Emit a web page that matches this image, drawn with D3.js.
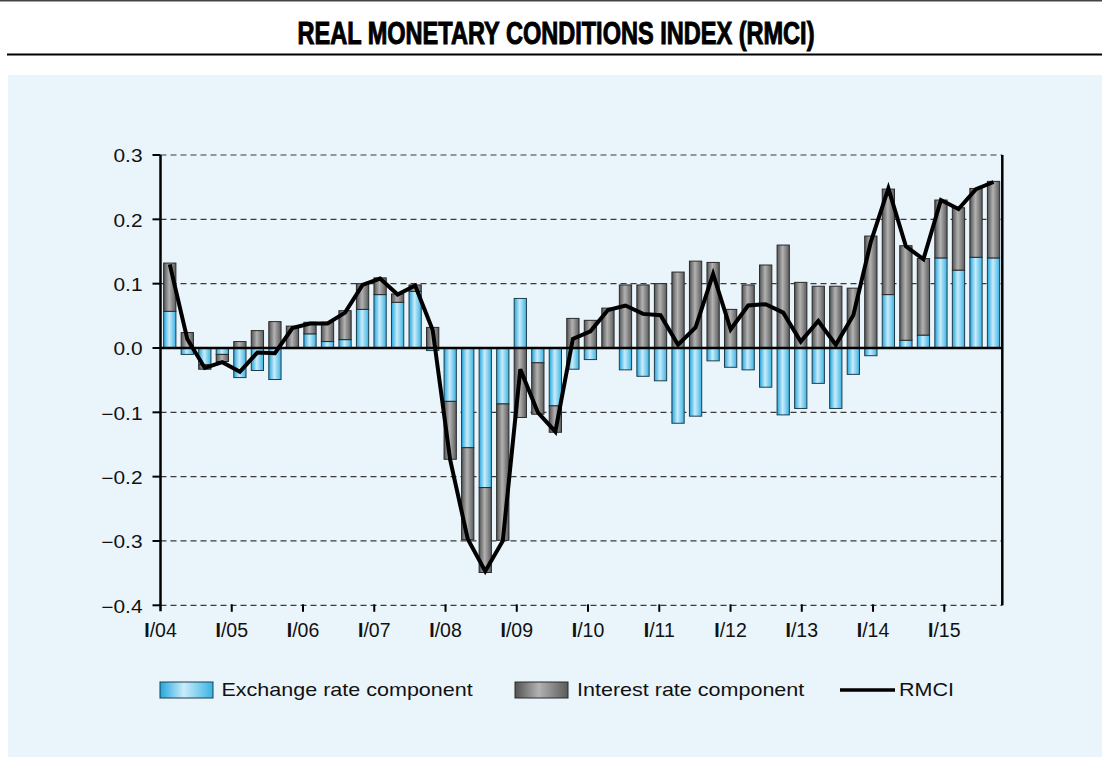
<!DOCTYPE html>
<html>
<head>
<meta charset="utf-8">
<script src="https://cdn.jsdelivr.net/npm/d3@7"></script>
<style>
  body { margin: 0; background: #fff; }
  svg { display: block; font-family: "Liberation Sans", Arial, sans-serif; }
</style>
</head>
<body>
<script>
  // quarterly data, I/04 .. IV/15
  const years = ["04", "05", "06", "07", "08", "09", "10", "11", "12", "13", "14", "15"];
  const quarterNames = ["I", "II", "III", "IV"];
  const quarters = years.flatMap((y) => quarterNames.map((q) => q + "/" + y));
  const tickLabels = years.map((y) => "I/" + y);
  const yTicks = [-0.4, -0.3, -0.2, -0.1, 0, 0.1, 0.2, 0.3];

  const exchange = [
     0.057, -0.010, -0.026, -0.010, -0.046, -0.035, -0.049,  0.000,
     0.022,  0.010,  0.013,  0.060,  0.083,  0.071,  0.088, -0.004,
    -0.083, -0.155, -0.217, -0.087,  0.077, -0.023, -0.090, -0.033,
    -0.018,  0.000, -0.034, -0.044, -0.051, -0.117, -0.106, -0.020,
    -0.030, -0.034, -0.061, -0.104, -0.094, -0.055, -0.094, -0.041,
    -0.012,  0.083,  0.012,  0.020,  0.140,  0.121,  0.141,  0.140
  ];
  const interest = [
     0.075,  0.024, -0.007, -0.011,  0.010,  0.027,  0.041,  0.034,
     0.018,  0.030,  0.045,  0.040,  0.026,  0.013,  0.010,  0.032,
    -0.090, -0.143, -0.132, -0.212, -0.108, -0.080, -0.041,  0.046,
     0.043,  0.062,  0.098,  0.098,  0.100,  0.118,  0.135,  0.133,
     0.060,  0.098,  0.129,  0.160,  0.102,  0.096,  0.096,  0.093,
     0.174,  0.164,  0.147,  0.119,  0.090,  0.097,  0.107,  0.119
  ];
  const rmci = [
     0.130,  0.014, -0.031, -0.022, -0.037, -0.007, -0.008,  0.031,
     0.038,  0.038,  0.055,  0.098,  0.108,  0.083,  0.097,  0.028,
    -0.174, -0.297, -0.347, -0.300, -0.033, -0.100, -0.130,  0.014,
     0.026,  0.059,  0.066,  0.053,  0.051,  0.005,  0.032,  0.115,
     0.029,  0.066,  0.068,  0.055,  0.010,  0.042,  0.005,  0.051,
     0.165,  0.248,  0.158,  0.138,  0.230,  0.216,  0.247,  0.258
  ];

  const W = 1102, H = 759;
  const plotLeft = 160.5, plotRight = 1002.3, plotTop = 155, plotBottom = 605.3;

  const svg = d3.select("body").append("svg")
    .attr("width", W).attr("height", H);

  // gradients
  const defs = svg.append("defs");
  const grad = (id, stops) => {
    const g = defs.append("linearGradient").attr("id", id)
      .attr("x1", "0%").attr("x2", "100%").attr("y1", "0%").attr("y2", "0%");
    stops.forEach(([o, c]) => g.append("stop").attr("offset", o).attr("stop-color", c));
  };
  grad("gBlue", [["0%", "#22a5de"], ["45%", "#c9ecfa"], ["100%", "#38b3e5"]]);
  grad("gGray", [["0%", "#525252"], ["45%", "#b2b2b2"], ["100%", "#5a5a5a"]]);

  // frame
  svg.append("rect").attr("x", 0).attr("y", 0).attr("width", W).attr("height", 1.5).attr("fill", "#444");
  svg.append("text")
    .attr("x", 556).attr("y", 43.5)
    .attr("text-anchor", "middle")
    .attr("font-family", "'Liberation Sans Narrow', 'Liberation Sans', sans-serif")
    .attr("font-weight", "bold")
    .attr("font-size", 31)
    .attr("textLength", 517)
    .attr("lengthAdjust", "spacingAndGlyphs")
    .attr("stroke", "#000").attr("stroke-width", 1)
    .text("REAL MONETARY CONDITIONS INDEX (RMCI)");
  svg.append("rect").attr("x", 7).attr("y", 53.5).attr("width", W - 7).attr("height", 2).attr("fill", "#000");
  svg.append("rect").attr("x", 8).attr("y", 75).attr("width", W - 8).attr("height", 682).attr("fill", "#eaf4fb");

  // scales
  const x = d3.scaleBand().domain(quarters).range([161, plotRight]).paddingInner(0.3).paddingOuter(0.15);
  const y = d3.scaleLinear().domain([-0.4, 0.3]).range([plotBottom, plotTop]);
  const xYear = d3.scaleLinear().domain([0, 11]).range([plotLeft, 944.3]);

  // gridlines
  svg.append("g").selectAll("line")
    .data(yTicks.filter((d) => d !== 0))
    .join("line")
    .attr("x1", plotLeft).attr("x2", plotRight)
    .attr("y1", (d) => y(d)).attr("y2", (d) => y(d))
    .attr("stroke", "#3a3a3a").attr("stroke-width", 1.2)
    .attr("stroke-dasharray", "6,4");

  // stacked bars
  const table = quarters.map((q, i) => ({ q, exchange: exchange[i], interest: interest[i] }));
  const series = d3.stack().keys(["exchange", "interest"]).offset(d3.stackOffsetDiverging)(table);
  const fills = { exchange: "url(#gBlue)", interest: "url(#gGray)" };
  const strokes = { exchange: "#1d3f4d", interest: "#2a2a2a" };

  svg.append("g").selectAll("g")
    .data(series)
    .join("g")
    .attr("fill", (s) => fills[s.key])
    .attr("stroke", (s) => strokes[s.key])
    .attr("stroke-width", 1)
    .selectAll("rect")
    .data((s) => s)
    .join("rect")
    .attr("x", (d) => x(d.data.q))
    .attr("width", x.bandwidth())
    .attr("y", (d) => y(Math.max(d[0], d[1])))
    .attr("height", (d) => Math.abs(y(d[0]) - y(d[1])));

  // zero line
  svg.append("line")
    .attr("x1", plotLeft).attr("x2", plotRight)
    .attr("y1", y(0)).attr("y2", y(0))
    .attr("stroke", "#000").attr("stroke-width", 2.5);

  // RMCI line
  const line = d3.line()
    .x((d, i) => x(quarters[i]) + x.bandwidth() / 2)
    .y((d) => y(d));
  svg.append("path")
    .datum(rmci)
    .attr("d", line)
    .attr("fill", "none")
    .attr("stroke", "#000")
    .attr("stroke-width", 4)
    .attr("stroke-linejoin", "miter");

  // axes
  svg.append("line").attr("x1", plotLeft).attr("x2", plotLeft).attr("y1", plotTop).attr("y2", plotBottom + 6)
    .attr("stroke", "#000").attr("stroke-width", 2.5);
  svg.append("line").attr("x1", plotRight).attr("x2", plotRight).attr("y1", plotTop).attr("y2", plotBottom)
    .attr("stroke", "#000").attr("stroke-width", 2.5);

  const fmt = (v) => (v < 0 ? "\u2212" : "") + Math.abs(v).toFixed(1);
  const yAxis = svg.append("g");
  yAxis.selectAll("line")
    .data(yTicks)
    .join("line")
    .attr("x1", plotLeft - 8).attr("x2", plotLeft)
    .attr("y1", (d) => y(d)).attr("y2", (d) => y(d))
    .attr("stroke", "#000").attr("stroke-width", 2);
  yAxis.selectAll("text")
    .data(yTicks)
    .join("text")
    .attr("transform", (d) => `translate(142.5,${y(d) + 7.2}) scale(1.18,1)`)
    .attr("text-anchor", "end")
    .attr("font-size", 17.7)
    .attr("fill", "#111")
    .text(fmt);

  const xAxis = svg.append("g");
  xAxis.selectAll("line")
    .data(tickLabels.slice(1))
    .join("line")
    .attr("x1", (d, i) => xYear(i + 1)).attr("x2", (d, i) => xYear(i + 1))
    .attr("y1", plotBottom - 1).attr("y2", plotBottom + 6.5)
    .attr("stroke", "#000").attr("stroke-width", 2);
  const xt = xAxis.selectAll("text")
    .data(tickLabels)
    .join("text")
    .attr("x", (d, i) => xYear(i))
    .attr("y", 637.3)
    .attr("text-anchor", "middle")
    .attr("font-size", 19.5)
    .attr("fill", "#111");
  xt.append("tspan").attr("font-weight", "bold").text((d) => d.split("/")[0]);
  xt.append("tspan").text((d) => "/" + d.split("/")[1]);

  // legend
  const legend = svg.append("g");
  const legendItems = [
    { label: "Exchange rate component", fill: "url(#gBlue)", stroke: "#1d3f4d", x: 160, tx: 221.5 },
    { label: "Interest rate component", fill: "url(#gGray)", stroke: "#2a2a2a", x: 515, tx: 577 }
  ];
  legendItems.forEach((it) => {
    legend.append("rect").attr("x", it.x).attr("y", 682).attr("width", 53).attr("height", 16)
      .attr("fill", it.fill).attr("stroke", it.stroke).attr("stroke-width", 1);
    legend.append("text")
      .attr("transform", `translate(${it.tx},695.5) scale(1.17,1)`)
      .attr("font-size", 18.4).attr("fill", "#111")
      .text(it.label);
  });
  legend.append("line").attr("x1", 840).attr("x2", 895).attr("y1", 690).attr("y2", 690)
    .attr("stroke", "#000").attr("stroke-width", 3.5);
  legend.append("text")
    .attr("transform", "translate(899,695.5) scale(1.17,1)")
    .attr("font-size", 18.4).attr("fill", "#111")
    .text("RMCI");
</script>
</body>
</html>
